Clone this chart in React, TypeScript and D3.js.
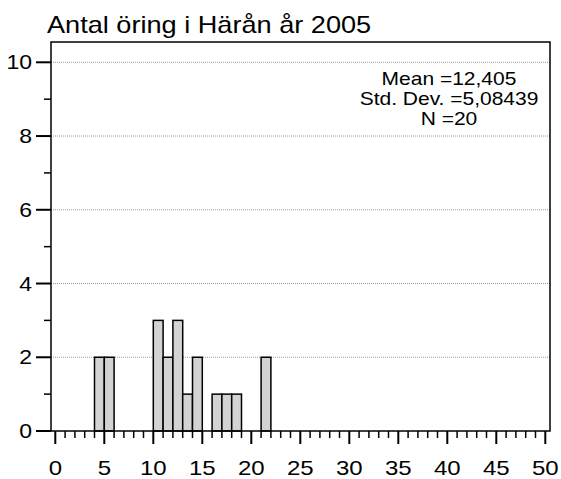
import React from "react";
import * as d3 from "d3";

// histogram bins (left edge, width 1) and counts
const binStarts = [4, 5, 10, 11, 12, 13, 14, 16, 17, 18, 21];
const binCounts = [2, 2, 3, 2, 3, 1, 2, 1, 1, 1, 2];
const xTicks = [0, 5, 10, 15, 20, 25, 30, 35, 40, 45, 50];
const yTicks = [0, 2, 4, 6, 8, 10];
const statLines = ["Mean =12,405", "Std. Dev. =5,08439", "N =20"];
const title = "Antal öring i Härån år 2005";

const W = 561;
const H = 479;
const frame = { left: 51, right: 550, top: 42, bottom: 431 };
const font = "Arial, 'Liberation Sans', Helvetica, sans-serif";

// the reference font is a bit wider than Arial, so stretch text horizontally
function WideText(props: {
  x: number;
  y: number;
  size: number;
  sx: number;
  anchor?: string;
  children: React.ReactNode;
}) {
  return (
    <text
      transform={`translate(${props.x},${props.y}) scale(${props.sx},1)`}
      textAnchor={props.anchor || "start"}
      fontFamily={font}
      fontSize={props.size}
      fill="#000"
    >
      {props.children}
    </text>
  );
}

export default function App() {
  const x = d3.scaleLinear().domain([0, 50]).range([55.3, 545.3]);
  const y = d3.scaleLinear().domain([0, 10]).range([frame.bottom, 62.3]);

  const minorX = d3.range(0, 51, 1).filter((d) => d % 5 !== 0);
  const minorY = d3.range(1, 11, 2);

  return (
    <div style={{ position: "absolute", left: 0, top: 0 }}>
      <svg width={W} height={H} style={{ display: "block", background: "#fff" }}>
        <WideText x={47} y={33} size={23} sx={1.18}>
          {title}
        </WideText>

        {/* grid */}
        {yTicks
          .filter((d) => d > 0)
          .map((d) => (
            <line
              key={"g" + d}
              x1={frame.left}
              x2={frame.right}
              y1={y(d)}
              y2={y(d)}
              stroke="#999"
              strokeWidth={1}
              strokeDasharray="1,1"
            />
          ))}

        {/* bars */}
        {binStarts.map((s, i) => (
          <rect
            key={"b" + i}
            x={x(s)}
            y={y(binCounts[i])}
            width={x(s + 1) - x(s)}
            height={y(0) - y(binCounts[i])}
            fill="#d3d3d3"
            stroke="#000"
            strokeWidth={1.5}
          />
        ))}

        {/* frame */}
        <rect
          x={frame.left}
          y={frame.top}
          width={frame.right - frame.left}
          height={frame.bottom - frame.top}
          fill="none"
          stroke="#000"
          strokeWidth={1.5}
        />

        {/* x axis */}
        {xTicks.map((d) => (
          <g key={"x" + d}>
            <line x1={x(d)} x2={x(d)} y1={frame.bottom} y2={frame.bottom + 13} stroke="#000" strokeWidth={2} />
            <WideText x={x(d)} y={474.5} size={20} sx={1.2} anchor="middle">
              {d}
            </WideText>
          </g>
        ))}
        {minorX.map((d) => (
          <line key={"mx" + d} x1={x(d)} x2={x(d)} y1={frame.bottom} y2={frame.bottom + 7} stroke="#000" strokeWidth={1.5} />
        ))}

        {/* y axis */}
        {yTicks.map((d) => (
          <g key={"y" + d}>
            <line x1={frame.left - 15} x2={frame.left} y1={y(d)} y2={y(d)} stroke="#000" strokeWidth={2} />
            <WideText x={32} y={y(d) + 7} size={20} sx={1.15} anchor="end">
              {d}
            </WideText>
          </g>
        ))}
        {minorY.map((d) => (
          <line key={"my" + d} x1={frame.left - 7} x2={frame.left} y1={y(d)} y2={y(d)} stroke="#000" strokeWidth={1.5} />
        ))}

        {/* stats */}
        {statLines.map((t, i) => (
          <WideText key={t} x={449} y={84.5 + i * 20} size={17.5} sx={1.2} anchor="middle">
            {t}
          </WideText>
        ))}
      </svg>
    </div>
  );
}
